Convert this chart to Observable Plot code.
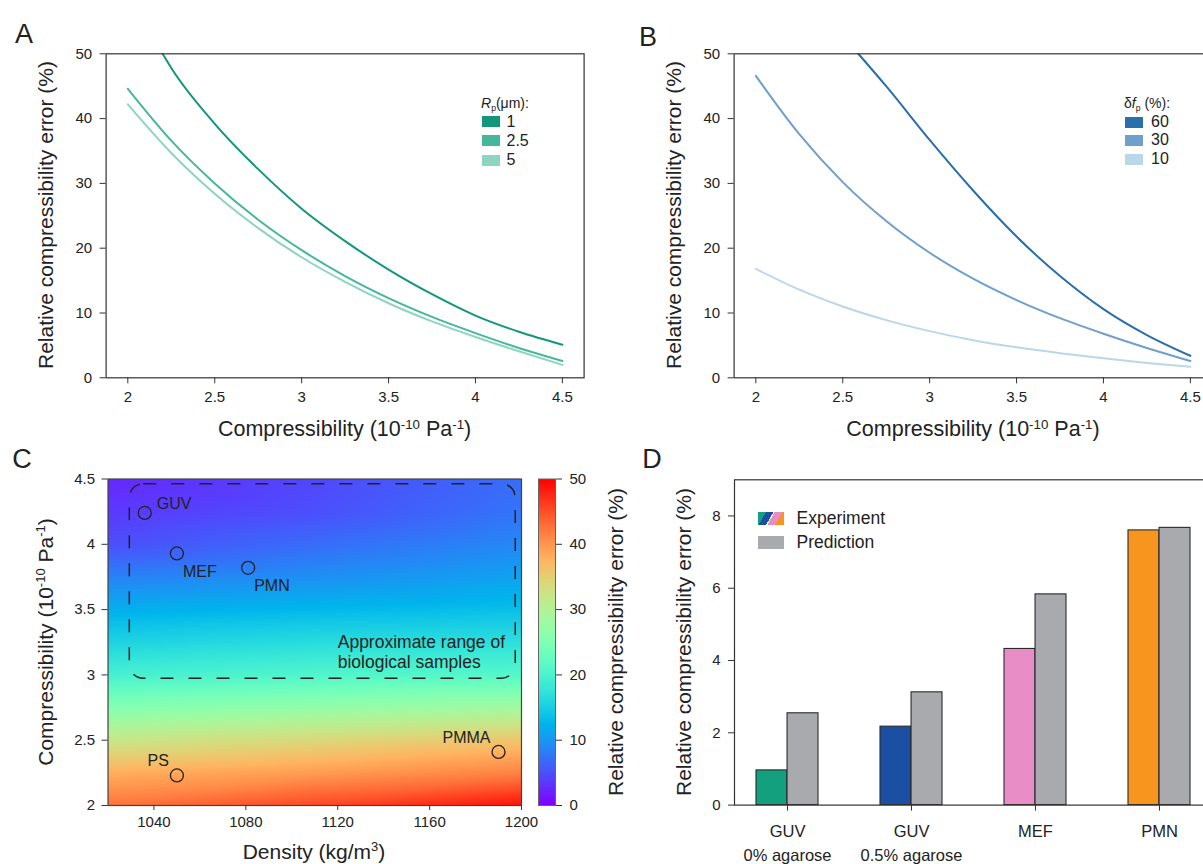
<!DOCTYPE html>
<html><head><meta charset="utf-8">
<script src="https://cdn.jsdelivr.net/npm/d3@7"></script>
<script src="https://cdn.jsdelivr.net/npm/@observablehq/plot@0.6"></script>
<style>
html,body{margin:0;padding:0;background:#fff;overflow:hidden;}
#fig{position:relative;width:1203px;height:864px;overflow:hidden;font-family:"Liberation Sans",Arial,sans-serif;color:#222;background:#fff;}
#fig svg{position:absolute;}
.lbl{position:absolute;white-space:nowrap;line-height:1;}
.lbl sup{font-size:0.62em;vertical-align:0.55em;line-height:0;}
.lbl sub{font-size:0.62em;vertical-align:-0.3em;line-height:0;}
.sw{position:absolute;}
</style></head>
<body><div id="fig"></div>
<script>
// ---------- DATA ----------
// Panel A: relative compressibility error vs compressibility, by probe radius Rp
const compGrid = [2, 2.25, 2.5, 2.75, 3, 3.25, 3.5, 3.75, 4, 4.25, 4.5];
const rp1Comp = [2.2, 2.25, 2.5, 2.75, 3, 3.25, 3.5, 3.75, 4, 4.25, 4.5];
const rp1Err  = [50, 47.8, 39.2, 32.2, 26.1, 21.1, 16.7, 12.9, 9.6, 7.1, 5.1];
const rp25Err = [44.6, 36.6, 30.0, 24.4, 19.7, 15.7, 12.3, 9.4, 6.9, 4.6, 2.6];
const rp5Err  = [42.2, 34.7, 28.4, 23.1, 18.6, 14.8, 11.5, 8.7, 6.3, 4.1, 2.0];
const rpLabels = ["1", "2.5", "5"];
const rpColors = ["#12977a", "#45b89b", "#8dd4c2"];

// Panel B: by frequency shift delta f_p
const df60Comp = [2.59, 2.75, 3, 3.25, 3.5, 3.75, 4, 4.25, 4.5];
const df60Err  = [50, 45.0, 36.7, 28.9, 21.8, 15.7, 10.6, 6.6, 3.4];
const df30Err  = [46.6, 37.6, 30.2, 24.2, 19.3, 15.3, 12.0, 9.2, 6.8, 4.6, 2.6];
const df10Err  = [16.8, 13.6, 11.0, 8.9, 7.2, 5.8, 4.7, 3.8, 3.0, 2.3, 1.7];
const dfLabels = ["60", "30", "10"];
const dfColors = ["#2a6fac", "#6f9fcb", "#bad7ea"];

const compTicks = [2, 2.5, 3, 3.5, 4, 4.5];
const errTicks = [0, 10, 20, 30, 40, 50];

// Panel C: error map over density x compressibility
const heatDensity = [1020, 1110, 1200];
const heatComp = [2, 2.25, 2.5, 2.75, 3, 3.25, 3.5, 3.75, 4, 4.25, 4.5];
const heatErr1020 = [42.5, 38, 32, 25.5, 19.5, 15.5, 12, 8.5, 5, 3.5, 2.5];
const heatErr1110 = [45.5, 39.5, 34, 27, 20.5, 16.5, 12.8, 9.5, 7, 5, 4.5];
const heatErr1200 = [49, 41.5, 36, 28.5, 21, 17, 13.5, 11, 9, 7.5, 7];
const sampleNames = ["GUV", "MEF", "PMN", "PS", "PMMA"];
const sampleDensity = [1036, 1050, 1081, 1050, 1190];
const sampleComp = [4.24, 3.93, 3.82, 2.23, 2.41];
const densTicks = [1040, 1080, 1120, 1160, 1200];
const barTicks = [0, 10, 20, 30, 40, 50];

// Panel D: experiment vs prediction
const dCats = ["GUV0", "GUV05", "MEF", "PMN"];
const dCatLabels = ["GUV\n0% agarose", "GUV\n0.5% agarose", "MEF", "PMN"];
const dExperiment = [0.96, 2.17, 4.32, 7.6];
const dPrediction = [2.54, 3.12, 5.83, 7.67];
const dExpColors = ["#12a07e", "#1a4fa3", "#e88dc5", "#f7951f"];
const dPredColor = "#a9aaad";
const dTicks = [0, 2, 4, 6, 8];

// ---------- HELPERS ----------
const fig = document.getElementById("fig");
const FONT = '"Liberation Sans", Arial, sans-serif';
const baseStyle = {fontFamily: FONT, fontSize: "15px", color: "#222", background: "transparent", overflow: "visible"};
function put(svg, left, top) { svg.style.left = left + "px"; svg.style.top = top + "px"; fig.appendChild(svg); }
function label(html, cx, cy, size = 21, rotate = false) {
  const d = document.createElement("div");
  d.className = "lbl"; d.innerHTML = html;
  d.style.fontSize = size + "px";
  d.style.left = cx + "px"; d.style.top = cy + "px";
  d.style.transform = "translate(-50%,-50%)" + (rotate ? " rotate(-90deg)" : "");
  fig.appendChild(d);
}
function textAt(html, x, cy, size) {
  const d = document.createElement("div");
  d.className = "lbl"; d.innerHTML = html;
  d.style.fontSize = size + "px";
  d.style.left = x + "px"; d.style.top = cy + "px";
  d.style.transform = "translateY(-50%)";
  fig.appendChild(d);
}
function swatch(x, cy, w, h, bg) {
  const s = document.createElement("div");
  s.className = "sw";
  s.style.left = x + "px"; s.style.top = (cy - h / 2) + "px";
  s.style.width = w + "px"; s.style.height = h + "px";
  s.style.background = bg;
  fig.appendChild(s);
}
const mplRainbow = t => {
  const r = Math.min(1, Math.abs(2 * t - 0.5));
  const g = Math.max(0, Math.sin(Math.PI * t));
  const b = Math.max(0, Math.cos(Math.PI * t / 2));
  return d3.rgb(r * 255, g * 255, b * 255).formatHex();
};

// ---------- PANELS A & B ----------
function curvePanel(data, labels, colors) {
  return Plot.plot({
    width: 600, height: 440,
    marginLeft: 105.6, marginRight: 16.4, marginTop: 53.3, marginBottom: 62.7,
    style: baseStyle,
    x: {domain: [1.875, 4.625], label: null},
    y: {domain: [0, 50], label: null},
    color: {domain: labels, range: colors},
    marks: [
      Plot.line(data, {x: "c", y: "e", stroke: "s", z: "s", curve: "monotone-x", strokeWidth: 2, clip: true}),
      Plot.frame({stroke: "#333", strokeWidth: 1.2}),
      Plot.axisX({ticks: compTicks, tickFormat: d => String(d), tickSize: 6, tickPadding: 8, label: null, stroke: "#333"}),
      Plot.axisY({ticks: errTicks, tickFormat: d => String(d), tickSize: 6, tickPadding: 8, label: null, stroke: "#333"})
    ]
  });
}
const dataA = [
  ...rp1Comp.map((c, i) => ({c, e: rp1Err[i], s: rpLabels[0]})),
  ...compGrid.map((c, i) => ({c, e: rp25Err[i], s: rpLabels[1]})),
  ...compGrid.map((c, i) => ({c, e: rp5Err[i], s: rpLabels[2]}))
];
put(curvePanel(dataA, rpLabels, rpColors), 0, 0);

const dataB = [
  ...df60Comp.map((c, i) => ({c, e: df60Err[i], s: dfLabels[0]})),
  ...compGrid.map((c, i) => ({c, e: df30Err[i], s: dfLabels[1]})),
  ...compGrid.map((c, i) => ({c, e: df10Err[i], s: dfLabels[2]}))
];
put(curvePanel(dataB, dfLabels, dfColors), 628.4, 0);

// ---------- PANEL C ----------
const heatCols = [heatErr1020, heatErr1110, heatErr1200];
const heatData = heatDensity.flatMap((d, j) => heatComp.map((c, i) => ({d, c, e: heatCols[j][i]})));
const samples = sampleNames.map((name, i) => ({name, d: sampleDensity[i], c: sampleComp[i]}));
const heat = Plot.plot({
  width: 530, height: 424,
  marginLeft: 107.5, marginRight: 9, marginTop: 38.5, marginBottom: 59,
  style: baseStyle,
  x: {domain: [1020, 1200], label: null},
  y: {domain: [2, 4.5], label: null},
  color: {type: "linear", domain: [0, 50], interpolate: mplRainbow},
  marks: [
    Plot.raster(heatData, {x: "d", y: "c", fill: "e", interpolate: "barycentric", x1: 1020, x2: 1200, y1: 2, y2: 4.5}),
    Plot.rect([{x1: 1029.5, x2: 1197.5, y1: 2.97, y2: 4.46}], {x1: "x1", x2: "x2", y1: "y1", y2: "y2", fill: "none", stroke: "#222", strokeWidth: 1.5, strokeDasharray: "13,15", rx: 14}),
    Plot.dot(samples, {x: "d", y: "c", r: 6.5, stroke: "#222", strokeWidth: 1.3, fill: "none"}),
    Plot.text(samples, {filter: d => d.name === "GUV", x: "d", y: "c", text: "name", dx: 12, dy: -9, textAnchor: "start", fontSize: 16, fill: "#222"}),
    Plot.text(samples, {filter: d => d.name === "MEF" || d.name === "PMN", x: "d", y: "c", text: "name", dx: 6, dy: 18, textAnchor: "start", fontSize: 16, fill: "#222"}),
    Plot.text(samples, {filter: d => d.name === "PS" || d.name === "PMMA", x: "d", y: "c", text: "name", dx: -8, dy: -14.5, textAnchor: "end", fontSize: 16, fill: "#222"}),
    Plot.text(["Approximate range of\nbiological samples"], {x: 1120, y: 3.176, text: d => d, textAnchor: "start", fontSize: 17.5, lineHeight: 1.15, fill: "#222"}),
    Plot.frame({stroke: "#444", strokeWidth: 1.2}),
    Plot.axisX({ticks: densTicks, tickFormat: d => String(d), tickSize: 5, tickPadding: 6, label: null, stroke: "#333"}),
    Plot.axisY({ticks: compTicks, tickFormat: d => String(d), tickSize: 6, tickPadding: 7, label: null, stroke: "#333"})
  ]
});
put(heat, 0, 440);

// colour bar
const cbar = Plot.plot({
  width: 120, height: 424,
  marginLeft: 18, marginRight: 85, marginTop: 38.5, marginBottom: 59,
  style: baseStyle,
  x: {domain: [0, 1], axis: null},
  y: {domain: [0, 50], label: null},
  color: {type: "linear", domain: [0, 50], interpolate: mplRainbow},
  marks: [
    Plot.raster({x1: 0, x2: 1, y1: 0, y2: 50, fill: (x, y) => y, pixelSize: 1}),
    Plot.frame({stroke: "#666", strokeWidth: 1}),
    Plot.axisY({anchor: "right", ticks: barTicks, tickFormat: d => String(d), tickSize: 6, tickPadding: 8, label: null, stroke: "#333"})
  ]
});
put(cbar, 520, 440);

// ---------- PANEL D ----------
const dData = dCats.map((k, i) => ({k, exp: dExperiment[i], pred: dPrediction[i], col: dExpColors[i]}));
const dW = 594, dML = 106, dMR = 10;
const dPadIn = 0.5, dPadOut = 0.1747;
const dBand = d3.scaleBand().domain(dCats).range([dML, dW - dMR]).paddingInner(dPadIn).paddingOuter(dPadOut).bandwidth();
const half = dBand / 2;
const bars = Plot.plot({
  width: dW, height: 424,
  marginLeft: dML, marginRight: dMR, marginTop: 39.3, marginBottom: 59.4,
  style: baseStyle,
  x: {type: "band", domain: dCats, paddingInner: dPadIn, paddingOuter: dPadOut, label: null},
  y: {domain: [0, 9], label: null},
  marks: [
    Plot.barY(dData, {x: "k", y: "exp", fill: d => d.col, insetRight: half, stroke: "#2a2a2a", strokeWidth: 1.1}),
    Plot.barY(dData, {x: "k", y: "pred", fill: dPredColor, insetLeft: half, stroke: "#2a2a2a", strokeWidth: 1.1}),
    Plot.frame({stroke: "#333", strokeWidth: 1.2}),
    Plot.axisX({tickSize: 6, tickPadding: 10, tickFormat: k => dCatLabels[dCats.indexOf(k)], lineHeight: 1.4, label: null, stroke: "#333"}),
    Plot.axisY({ticks: dTicks, tickFormat: d => String(d), tickSize: 6, tickPadding: 8, label: null, stroke: "#333"})
  ]
});
// category labels are set a little larger than the numeric ticks, as in the reference
d3.select(bars).selectAll("g[aria-label='x-axis tick label']").style("font-size", "16.5px")
  .selectAll("text").style("font-size", "16.5px");
put(bars, 628, 440);

// ---------- TEXT: titles, letters, legends ----------
const compTitle = "Compressibility (10<sup>-10</sup> Pa<sup>-1</sup>)";
const errTitle = "Relative compressibility error (%)";
label("A", 24, 34, 27);
label("B", 648, 37, 27);
label("C", 22, 459, 27);
label("D", 652, 459, 27);
label(errTitle, 45, 215, 21, true);
label(compTitle, 344.6, 430, 21.5);
label(errTitle, 673, 215, 21, true);
label(compTitle, 973, 430, 21.5);
label(compTitle, 45, 642, 21, true);
label("Density (kg/m<sup>3</sup>)", 314, 851, 21);
label(errTitle, 615, 642, 21, true);
label(errTitle, 683, 642, 21, true);

// legend A
textAt("<i>R</i><sub>p</sub>(μm):", 481, 103, 14);
[121.7, 140.5, 160].forEach((cy, i) => { swatch(481.7, cy, 18, 11, rpColors[i]); textAt(rpLabels[i], 506.5, cy, 16); });
// legend B
textAt("δ<i>f</i><sub>p</sub> (%):", 1124, 103, 14);
[122.3, 140, 159].forEach((cy, i) => { swatch(1125, cy, 18, 11, dfColors[i]); textAt(dfLabels[i], 1151, cy, 16); });
// legend D
swatch(758.3, 518, 26, 13, "linear-gradient(120deg, #12a07e 0 24%, #1a4fa3 24% 46%, #ffffff 46% 50%, #e88dc5 50% 73%, #f7951f 73% 100%)");
textAt("Experiment", 796.5, 519, 17.5);
swatch(758.3, 542.3, 26, 13, dPredColor);
textAt("Prediction", 796.5, 543, 17.5);
</script>
</body></html>
